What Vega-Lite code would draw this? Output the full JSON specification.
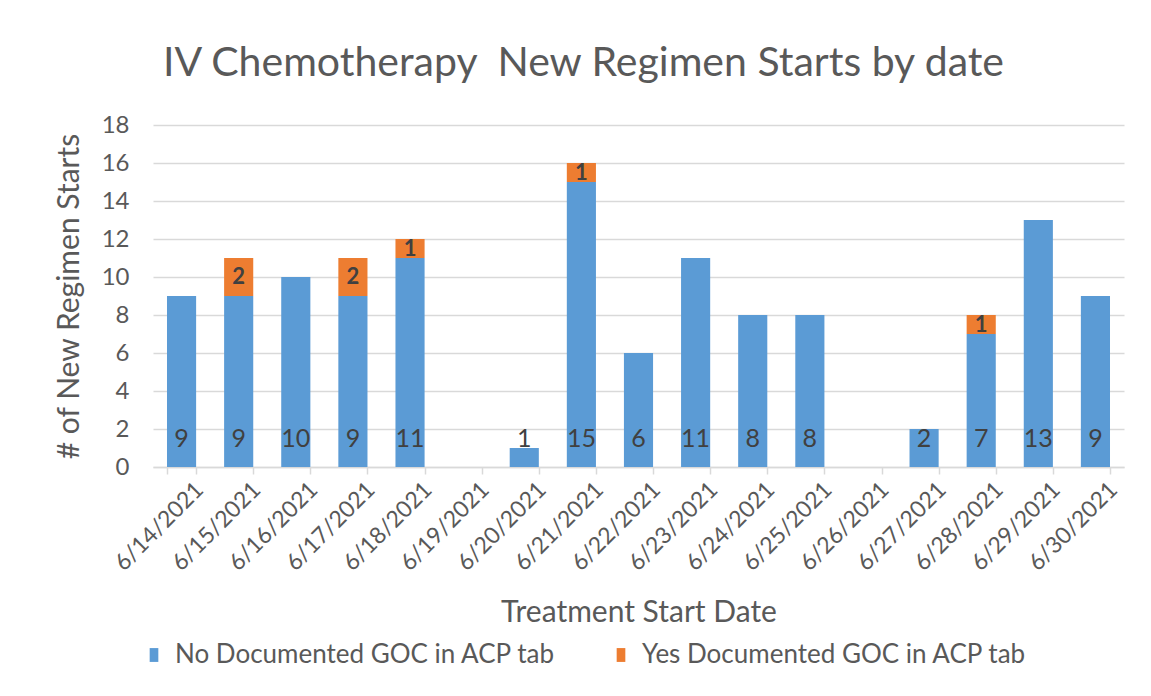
{
  "$schema": "https://vega.github.io/schema/vega-lite/v6.json",
  "width": 971,
  "height": 342,
  "autosize": {"type": "none"},
  "padding": {"left": 153, "top": 125, "right": 27, "bottom": 229},
  "background": "white",
  "title": {
    "text": "IV Chemotherapy\u00a0 New Regimen Starts by date",
    "font": "Lato", "fontSize": 41, "fontWeight": "normal", "color": "#595959",
    "anchor": "middle", "frame": "group", "dx": -55, "offset": 28
  },
  "data": {"values": [
    {"date": "6/14/2021", "series": "No Documented GOC in ACP tab", "value": 9},
    {"date": "6/14/2021", "series": "Yes Documented GOC in ACP tab", "value": 0},
    {"date": "6/15/2021", "series": "No Documented GOC in ACP tab", "value": 9},
    {"date": "6/15/2021", "series": "Yes Documented GOC in ACP tab", "value": 2},
    {"date": "6/16/2021", "series": "No Documented GOC in ACP tab", "value": 10},
    {"date": "6/16/2021", "series": "Yes Documented GOC in ACP tab", "value": 0},
    {"date": "6/17/2021", "series": "No Documented GOC in ACP tab", "value": 9},
    {"date": "6/17/2021", "series": "Yes Documented GOC in ACP tab", "value": 2},
    {"date": "6/18/2021", "series": "No Documented GOC in ACP tab", "value": 11},
    {"date": "6/18/2021", "series": "Yes Documented GOC in ACP tab", "value": 1},
    {"date": "6/19/2021", "series": "No Documented GOC in ACP tab", "value": 0},
    {"date": "6/19/2021", "series": "Yes Documented GOC in ACP tab", "value": 0},
    {"date": "6/20/2021", "series": "No Documented GOC in ACP tab", "value": 1},
    {"date": "6/20/2021", "series": "Yes Documented GOC in ACP tab", "value": 0},
    {"date": "6/21/2021", "series": "No Documented GOC in ACP tab", "value": 15},
    {"date": "6/21/2021", "series": "Yes Documented GOC in ACP tab", "value": 1},
    {"date": "6/22/2021", "series": "No Documented GOC in ACP tab", "value": 6},
    {"date": "6/22/2021", "series": "Yes Documented GOC in ACP tab", "value": 0},
    {"date": "6/23/2021", "series": "No Documented GOC in ACP tab", "value": 11},
    {"date": "6/23/2021", "series": "Yes Documented GOC in ACP tab", "value": 0},
    {"date": "6/24/2021", "series": "No Documented GOC in ACP tab", "value": 8},
    {"date": "6/24/2021", "series": "Yes Documented GOC in ACP tab", "value": 0},
    {"date": "6/25/2021", "series": "No Documented GOC in ACP tab", "value": 8},
    {"date": "6/25/2021", "series": "Yes Documented GOC in ACP tab", "value": 0},
    {"date": "6/26/2021", "series": "No Documented GOC in ACP tab", "value": 0},
    {"date": "6/26/2021", "series": "Yes Documented GOC in ACP tab", "value": 0},
    {"date": "6/27/2021", "series": "No Documented GOC in ACP tab", "value": 2},
    {"date": "6/27/2021", "series": "Yes Documented GOC in ACP tab", "value": 0},
    {"date": "6/28/2021", "series": "No Documented GOC in ACP tab", "value": 7},
    {"date": "6/28/2021", "series": "Yes Documented GOC in ACP tab", "value": 1},
    {"date": "6/29/2021", "series": "No Documented GOC in ACP tab", "value": 13},
    {"date": "6/29/2021", "series": "Yes Documented GOC in ACP tab", "value": 0},
    {"date": "6/30/2021", "series": "No Documented GOC in ACP tab", "value": 9},
    {"date": "6/30/2021", "series": "Yes Documented GOC in ACP tab", "value": 0}
  ]},
  "config": {
    "font": "Lato",
    "view": {"stroke": null},
    "axis": {"labelColor": "#595959", "titleColor": "#595959", "titleFontWeight": "normal", "labelFont": "Lato", "titleFont": "Lato"},
    "axisY": {
      "domain": false, "ticks": false, "tickSize": 0, "labelPadding": 24, "labelFontSize": 24,
      "labelOverlap": false,
      "gridColor": "#d9d9d9", "gridWidth": 1.5, "titleFontSize": 30,
      "titleX": -84, "titleY": 171, "titleAngle": -90, "titleBaseline": "middle", "titleAlign": "center"
    }
  },
  "encoding": {
    "x": {
      "field": "date", "type": "ordinal", "sort": null,
      "scale": {"paddingInner": 0.49, "paddingOuter": 0.245},
      "axis": {
        "title": "Treatment Start Date", "titleFontSize": 30, "titleY": 145, "titleBaseline": "middle",
        "labelAngle": -45, "labelFontSize": 23, "labelPadding": 4, "labelOffset": 10,
        "domainColor": "#d9d9d9", "domainWidth": 1.5,
        "tickBand": "extent", "tickColor": "#d9d9d9", "tickWidth": 1.5, "tickSize": 7
      }
    }
  },
  "layer": [
    {
      "mark": {"type": "bar"},
      "encoding": {
        "y": {"field": "value", "type": "quantitative", "title": "# of New Regimen Starts",
              "scale": {"domain": [0, 18], "nice": false},
              "axis": {"values": [0, 2, 4, 6, 8, 10, 12, 14, 16, 18]}},
        "color": {
          "field": "series", "type": "nominal",
          "scale": {"domain": ["No Documented GOC in ACP tab", "Yes Documented GOC in ACP tab"], "range": ["#5B9BD5", "#ED7D31"]},
          "legend": {
            "title": null, "orient": "none", "legendX": -12, "legendY": 517, "direction": "horizontal",
            "labelFontSize": 26, "labelColor": "#595959", "labelFont": "Lato", "labelLimit": 0,
            "symbolType": "M-0.5,-0.8H0.5V0.8H-0.5Z", "symbolSize": 300, "symbolStrokeWidth": 0,
            "labelOffset": 8, "columnPadding": 52
          }
        },
        "order": {"field": "series", "sort": "ascending"}
      }
    },
    {
      "transform": [{"filter": "datum.series == 'No Documented GOC in ACP tab' && datum.value > 0"}],
      "mark": {"type": "text", "fontSize": 25, "color": "#404040", "baseline": "middle", "align": "center"},
      "encoding": {
        "y": {"datum": 1.5, "type": "quantitative", "title": "# of New Regimen Starts",
              "axis": {"values": [0, 2, 4, 6, 8, 10, 12, 14, 16, 18]}},
        "text": {"field": "value", "type": "quantitative"}
      }
    },
    {
      "transform": [
        {"stack": "value", "groupby": ["date"], "sort": [{"field": "series", "order": "ascending"}], "as": ["v0", "v1"]},
        {"filter": "datum.series == 'Yes Documented GOC in ACP tab' && datum.value > 0"},
        {"calculate": "(datum.v0 + datum.v1) / 2", "as": "mid"}
      ],
      "mark": {"type": "text", "fontSize": 22, "fontWeight": "bold", "color": "#404040", "baseline": "middle", "align": "center"},
      "encoding": {
        "y": {"field": "mid", "type": "quantitative", "title": "# of New Regimen Starts",
              "axis": {"values": [0, 2, 4, 6, 8, 10, 12, 14, 16, 18]}},
        "text": {"field": "value", "type": "quantitative"}
      }
    }
  ]
}
